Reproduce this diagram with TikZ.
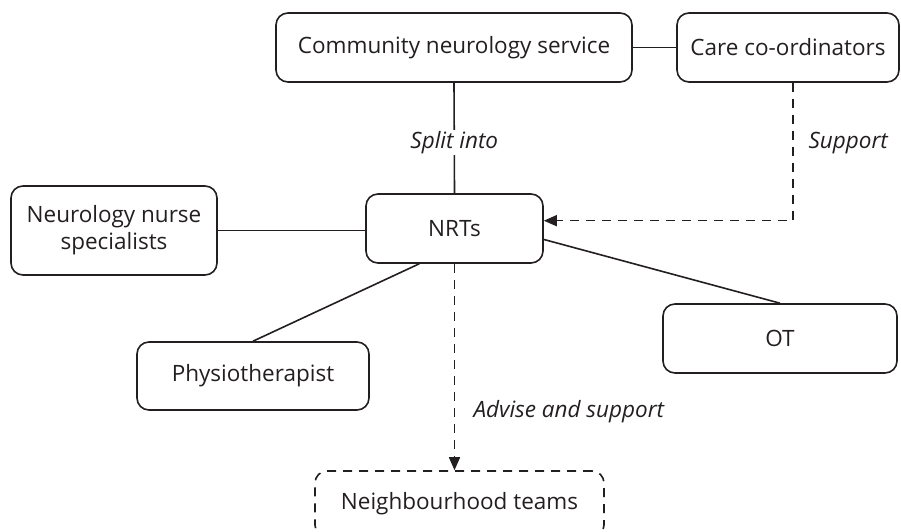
\documentclass[tikz,border=0pt]{standalone}
\usepackage{fontspec}
\setmainfont{Open Sans}
\usetikzlibrary{arrows.meta,calc}
\definecolor{ink}{HTML}{231F20}
\tikzset{
  box/.style={draw=ink, line width=1.6pt, rounded corners=12pt, align=center, text=ink, inner sep=0pt},
  conn/.style={draw=ink, line width=1.6pt},
  dconn/.style={draw=ink, line width=1.6pt, dash pattern=on 9pt off 7pt},
  tip/.style={-{Triangle[length=13pt,width=11pt]}},
  lbl/.style={text=ink, font=\itshape\fontsize{22.5}{27}\selectfont},
}
\begin{document}
\begin{tikzpicture}[x=1pt,y=-1pt, every node/.style={font=\fontsize{22.5}{27}\selectfont}]
\clip (0,0) rectangle (901,532);
\node[box, minimum width=356pt, minimum height=69pt] (cns) at (454,47.5) {Community neurology service};
\node[box, minimum width=222pt, minimum height=69pt] (care) at (788,47.5) {Care co-ordinators};
\node[box, minimum width=177pt, minimum height=69pt] (nrts) at (454.5,228.5) {NRTs};
\node[box, minimum width=206pt, minimum height=89pt] (nns) at (114,230.5) {Neurology nurse\\specialists};
\node[box, minimum width=232pt, minimum height=68pt] (physio) at (253,376) {Physiotherapist};
\node[box, minimum width=234pt, minimum height=69pt] (ot) at (780,338.5) {OT};
\node[box, dash pattern=on 9pt off 7pt, minimum width=289pt, minimum height=66pt] (nbh) at (459.5,504) {Neighbourhood teams};

\draw[conn] (cns) -- (care);
\draw[conn] (cns.south) -- node[pos=0.54, fill=white, lbl, inner sep=1pt] {Split into} (nrts.north);
\draw[conn] (nns) -- (nns -| nrts.west);
\draw[conn] (nrts.225) -- (physio.north);
\draw[conn] (nrts.-7) -- (ot.north);
\coordinate (cs) at ($(care.south)+(5,0)$);
\draw[dconn, tip] (cs) |- (nrts.5.5);
\node[lbl, anchor=west] (sup) at (805,143) {Support};
\draw[dconn, tip] (nrts.south) -- (nrts.south |- nbh.north);
\node[lbl, anchor=west] (adv) at (470,412) {Advise and support};
\end{tikzpicture}
\end{document}
